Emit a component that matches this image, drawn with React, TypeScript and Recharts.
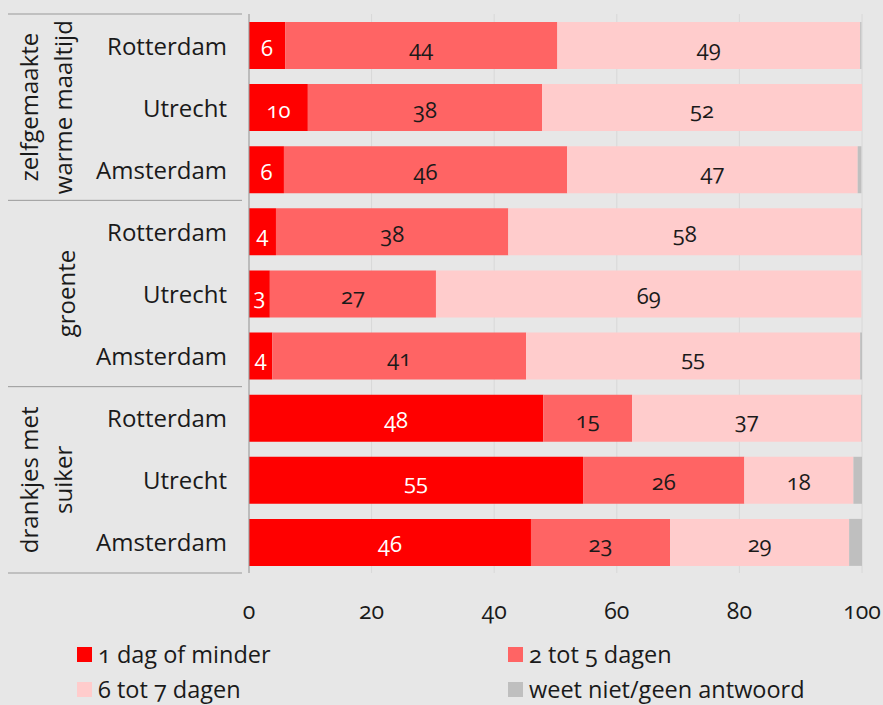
import React from 'react'
import { BarChart, Bar, XAxis, YAxis, CartesianGrid, LabelList } from 'recharts'

const cities = ['Rotterdam', 'Utrecht', 'Amsterdam', 'Rotterdam', 'Utrecht', 'Amsterdam', 'Rotterdam', 'Utrecht', 'Amsterdam']
const groups = [['zelfgemaakte', 'warme maaltijd'], ['groente'], ['drankjes met', 'suiker']]
const oneDay = [5.9, 9.6, 5.7, 4.4, 3.4, 3.8, 48.0, 54.5, 46.0]
const twoToFive = [44.4, 38.2, 46.2, 37.9, 27.1, 41.4, 14.5, 26.3, 22.7]
const sixToSeven = [49.4, 52.2, 47.4, 57.6, 69.4, 54.5, 37.4, 17.8, 29.2]
const unknown = [0.2, 0, 0.6, 0.1, 0, 0.3, 0.1, 1.4, 2.1]
const xTicks = [0, 20, 40, 60, 80, 100]

const seriesNames = ['1 dag of minder', '2 tot 5 dagen', '6 tot 7 dagen', 'weet niet/geen antwoord']
const COLORS = ['#ff0000', '#ff6464', '#ffcccc', '#bfbfbf']
const BG = '#e7e7e7'
const FONT = '"Open Sans", "Noto Sans", sans-serif'

const data = cities.map((c, i) => ({
  key: `${i}-${c}`,
  city: c,
  group: Math.floor(i / 3),
  pos: i % 3,
  a: oneDay[i],
  b: twoToFive[i],
  c: sixToSeven[i],
  d: unknown[i],
}))

const CityTick = (props: any) => {
  const { x, y, payload, height } = props
  const row = data.find(d => d.key === payload.value)
  if (!row) return null
  const band = height ? height / data.length : 62
  const group = groups[row.group]
  return (
    <g>
      <text x={x - 14} y={y} textAnchor="end" dominantBaseline="central" fontSize={24} fill="#1a1a1a" fontFamily={FONT}>
        {row.city}
      </text>
      {row.pos === 0 && (
        <line x1={8} x2={x + 1} y1={y - band / 2} y2={y - band / 2} stroke="#999" strokeWidth={1} />
      )}
      {row.pos === 2 && row.group === groups.length - 1 && (
        <line x1={8} x2={x + 1} y1={y + band / 2} y2={y + band / 2} stroke="#999" strokeWidth={1} />
      )}
      {row.pos === 1 && group.map((t, k) => {
        const cx = group.length === 1 ? 65 : 29 + k * 34
        return (
          <text key={k} x={cx} y={y} transform={`rotate(-90 ${cx} ${y})`} textAnchor="middle"
            dominantBaseline="central" fontSize={24} fill="#1a1a1a" fontFamily={FONT}>
            {t}
          </text>
        )
      })}
    </g>
  )
}

const makeLabel = (color: string) => (props: any) => {
  const { x, y, width, height, value } = props
  if (!value || value < 1) return null
  return (
    <text x={x + width / 2} y={y + height / 2 + 1} textAnchor="middle" dominantBaseline="central"
      fontSize={22} fill={color} fontFamily={FONT} style={{ fontVariantNumeric: 'oldstyle-nums' }}>
      {Math.round(value)}
    </text>
  )
}

const LegendBox = () => (
  <div style={{ position: 'absolute', left: 77, top: 639, display: 'grid', gridTemplateColumns: '431px 320px', rowGap: 5, fontFamily: FONT, fontSize: 23.5, color: '#1a1a1a', lineHeight: '30px' }}>
    {seriesNames.map((n, i) => (
      <div key={n} style={{ display: 'flex', alignItems: 'center', height: 30 }}>
        <span style={{ width: 15, height: 15, background: COLORS[i], marginRight: 6, display: 'inline-block' }} />
        <span style={{ fontVariantNumeric: 'oldstyle-nums' }}>{n}</span>
      </div>
    ))}
  </div>
)

export default function App() {
  return (
    <div style={{ position: 'fixed', left: 0, top: 0, width: 883, height: 705, background: BG, overflow: 'hidden' }}>
      <BarChart
        width={883}
        height={705}
        data={data}
        layout="vertical"
        margin={{ top: 14, right: 21, bottom: 72, left: 8 }}
        barSize={47}
      >
        <CartesianGrid horizontal={false} stroke="#d8d8d8" />
        <XAxis
          type="number"
          domain={[0, 100]}
          ticks={xTicks}
          axisLine={false}
          tickLine={false}
          tickMargin={24}
          height={60}
          tick={{ fontSize: 23, fill: '#1a1a1a', fontFamily: FONT, style: { fontVariantNumeric: 'oldstyle-nums' } }}
        />
        <YAxis
          type="category"
          dataKey="key"
          width={241}
          tickLine={false}
          axisLine={{ stroke: '#999' }}
          tick={<CityTick />}
          interval={0}
        />
        <Bar dataKey="a" name={seriesNames[0]} stackId="s" fill={COLORS[0]} isAnimationActive={false}>
          <LabelList dataKey="a" content={makeLabel('#ffffff')} />
        </Bar>
        <Bar dataKey="b" name={seriesNames[1]} stackId="s" fill={COLORS[1]} isAnimationActive={false}>
          <LabelList dataKey="b" content={makeLabel('#1a1a1a')} />
        </Bar>
        <Bar dataKey="c" name={seriesNames[2]} stackId="s" fill={COLORS[2]} isAnimationActive={false}>
          <LabelList dataKey="c" content={makeLabel('#1a1a1a')} />
        </Bar>
        <Bar dataKey="d" name={seriesNames[3]} stackId="s" fill={COLORS[3]} isAnimationActive={false} />
      </BarChart>
      <LegendBox />
    </div>
  )
}
